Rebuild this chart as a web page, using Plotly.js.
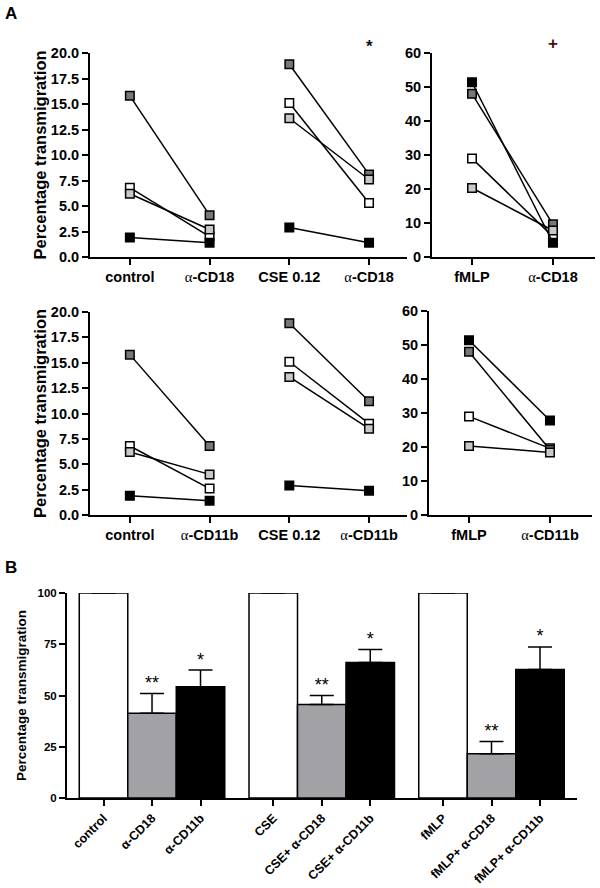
<!DOCTYPE html>
<html>
<head>
<meta charset="utf-8">
<script src="https://cdn.plot.ly/plotly-3.0.1.min.js"></script>
<style>html,body{margin:0;padding:0;background:#fff;}#chart{width:600px;height:888px;}</style>
</head>
<body>
<div id="chart"></div>
<script>
// ---------- DATA ----------
// Panel A: four donors (fill colours: dark grey, white, light grey, black)
const donorFills = ['#777777', '#ffffff', '#c8c8c8', '#000000'];
const donorOrder = [1, 0, 2, 3]; // drawing order (white first, black last)

const ctrl       = [15.8, 6.8, 6.2, 1.9];
const ctrlCD18   = [4.1, 2.0, 2.7, 1.4];
const cse        = [18.9, 15.1, 13.6, 2.9];
const cseCD18    = [8.1, 5.3, 7.6, 1.4];
const fmlp       = [48.0, 29.0, 20.3, 51.4];
const fmlpCD18   = [9.6, 6.0, 7.8, 4.2];

const ctrlCD11b  = [6.8, 2.6, 4.0, 1.4];
const cseCD11b   = [11.2, 9.0, 8.5, 2.4];
const fmlpCD11b  = [19.2, 19.6, 18.4, 27.8];

const alpha = '<span style="font-family:Liberation Serif;font-weight:normal">α</span>';
const catsCD18Left   = ['control', alpha + '-CD18', 'CSE 0.12', alpha + '-CD18'];
const catsCD18Right  = ['fMLP', alpha + '-CD18'];
const catsCD11bLeft  = ['control', alpha + '-CD11b', 'CSE 0.12', alpha + '-CD11b'];
const catsCD11bRight = ['fMLP', alpha + '-CD11b'];

// Panel B
const bLabels = ['control', 'α-CD18', 'α-CD11b', 'CSE', 'CSE+ α-CD18', 'CSE+ α-CD11b',
                 'fMLP', 'fMLP+ α-CD18', 'fMLP+ α-CD11b'];
const bValues = [100, 41.3, 54.3, 100, 45.6, 66.1, 100, 21.6, 62.7];
const bErrors = [null, 9.7, 8.1, null, 4.4, 6.3, null, 6.0, 11.0];
const bStars  = ['', '**', '*', '', '**', '*', '', '**', '*'];
const bFills  = ['#ffffff', '#a2a2a6', '#000000'];

// ---------- BUILD ----------
const FONT = 'Liberation Sans, Arial, sans-serif';
const traces = [];

function pair(xa, ya, i, j, before, after) {
  donorOrder.forEach(s => {
    traces.push({
      type: 'scatter', mode: 'lines+markers', xaxis: xa, yaxis: ya,
      x: [i, j], y: [before[s], after[s]],
      line: {color: '#000', width: 1.5},
      marker: {symbol: 'square', size: 8.5, color: donorFills[s], line: {color: '#000', width: 1.5}},
      cliponaxis: false, showlegend: false, hoverinfo: 'skip'
    });
  });
}
pair('x', 'y', 0, 1, ctrl, ctrlCD18);
pair('x', 'y', 2, 3, cse, cseCD18);
pair('x2', 'y2', 0, 1, fmlp, fmlpCD18);
pair('x3', 'y3', 0, 1, ctrl, ctrlCD11b);
pair('x3', 'y3', 2, 3, cse, cseCD11b);
pair('x4', 'y4', 0, 1, fmlp, fmlpCD11b);

const bX = bLabels.map((_, i) => Math.floor(i / 3) * 3.5 + (i % 3));
traces.push({
  type: 'bar', xaxis: 'x5', yaxis: 'y5', x: bX, y: bValues, width: 1,
  marker: {color: bLabels.map((_, i) => bFills[i % 3]), line: {color: '#000', width: 1.5}},
  error_y: {type: 'data', symmetric: false, array: bErrors, arrayminus: bErrors.map(() => 0),
            color: '#000', thickness: 1.5, width: 12},
  showlegend: false, hoverinfo: 'skip'
});
traces.push({
  type: 'scatter', mode: 'text', xaxis: 'x5', yaxis: 'y5',
  x: bX, y: bValues.map((v, i) => v + (bErrors[i] || 0)), text: bStars,
  textposition: 'top center', textfont: {family: FONT, size: 18, color: '#000'},
  cliponaxis: false, showlegend: false, hoverinfo: 'skip'
});

const W = 600, H = 888;
const px = v => v / W, py = v => 1 - v / H;

function xAx(anchor, d, range, vals, text, tf) {
  return {anchor: anchor, domain: d, range: range, showline: true, linecolor: '#000', linewidth: 2,
          ticks: 'outside', ticklen: 6, tickwidth: 2, tickcolor: '#000',
          tickmode: 'array', tickvals: vals, ticktext: text,
          tickfont: tf, showgrid: false, zeroline: false, fixedrange: true};
}
function yAx(anchor, d, range, dtick, fmt, tf, title, tfont, standoff) {
  return {anchor: anchor, domain: d, range: range, showline: true, linecolor: '#000', linewidth: 2,
          ticks: 'outside', ticklen: 6, tickwidth: 2, tickcolor: '#000',
          tickmode: 'linear', dtick: dtick, tick0: 0, tickformat: fmt, tickfont: tf,
          showgrid: false, zeroline: false, fixedrange: true,
          title: title ? {text: title, font: tfont, standoff: standoff} : undefined};
}
const tfA = {family: FONT, size: 14.5, color: '#000', weight: 'bold'};
const tfBy = {family: FONT, size: 11.5, color: '#000', weight: 'bold'};
const tfBx = {family: FONT, size: 12.5, color: '#000', weight: 'bold'};
const titA = {family: FONT, size: 16.5, color: '#000', weight: 'bold'};
const titB = {family: FONT, size: 13.5, color: '#000', weight: 'bold'};

const layout = {
  width: W, height: H, margin: {l: 0, r: 0, t: 0, b: 0},
  paper_bgcolor: '#fff', plot_bgcolor: 'rgba(0,0,0,0)',
  font: {family: FONT, color: '#000'},
  xaxis:  xAx('y',  [px(90), px(407)], [-0.5, 3.476], [0, 1, 2, 3], catsCD18Left, tfA),
  yaxis:  yAx('x',  [py(257), py(53)], [0, 20], 2.5, '.1f', tfA, 'Percentage transmigration', titA, 0),
  xaxis2: xAx('y2', [px(432), px(595)], [-0.494, 1.519], [0, 1], catsCD18Right, tfA),
  yaxis2: yAx('x2', [py(257), py(53)], [0, 60], 10, 'd', tfA),
  xaxis3: xAx('y3', [px(90), px(407)], [-0.5, 3.476], [0, 1, 2, 3], catsCD11bLeft, tfA),
  yaxis3: yAx('x3', [py(515), py(312)], [0, 20], 2.5, '.1f', tfA, 'Percentage transmigration', titA, 0),
  xaxis4: xAx('y4', [px(429), px(592)], [-0.494, 1.519], [0, 1], catsCD11bRight, tfA),
  yaxis4: yAx('x4', [py(515), py(311)], [0, 60], 10, 'd', tfA),
  xaxis5: Object.assign(xAx('y5', [px(67), px(577)], [-0.753, 9.763], bX, bLabels, tfBx), {tickangle: -45}),
  yaxis5: yAx('x5', [py(798), py(593)], [0, 100], 25, 'd', tfBy, 'Percentage transmigration', titB, 8),
  annotations: [
    {text: '<b>A</b>', xref: 'paper', yref: 'paper', x: px(3), y: py(14), xanchor: 'left', yanchor: 'middle',
     showarrow: false, font: {family: FONT, size: 17, color: '#000'}},
    {text: '<b>B</b>', xref: 'paper', yref: 'paper', x: px(3), y: py(567), xanchor: 'left', yanchor: 'middle',
     showarrow: false, font: {family: FONT, size: 17, color: '#000'}},
    {text: '<b>*</b>', xref: 'x', yref: 'paper', x: 3, y: py(47), yanchor: 'middle',
     showarrow: false, font: {family: FONT, size: 17, color: '#111'}},
    {text: '<b>+</b>', xref: 'x2', yref: 'paper', x: 1, y: py(43), yanchor: 'middle',
     showarrow: false, font: {family: FONT, size: 17, color: '#401010'}}
  ]
};

Plotly.newPlot('chart', traces, layout, {staticPlot: true, displayModeBar: false});
</script>
</body>
</html>
